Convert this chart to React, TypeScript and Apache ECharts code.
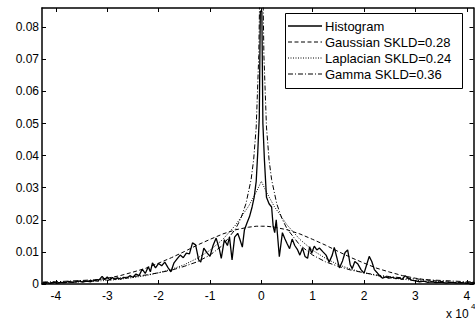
import React, { useEffect, useRef } from "react";
import * as echarts from "echarts";

// x values are in units of 10^4 (as the axis shows "x 10^4")
const histX = [
  -4.27, -4.2, -4.12, -4.05, -3.98, -3.9, -3.82, -3.75, -3.68, -3.6, -3.55, -3.48, -3.4, -3.32, -3.25, -3.18,
  -3.1, -3.05, -3.0, -2.95, -2.9, -2.85, -2.8, -2.74, -2.68, -2.62, -2.56, -2.5, -2.44, -2.38, -2.32, -2.26,
  -2.2, -2.16, -2.12, -2.06, -2.0, -1.94, -1.88, -1.82, -1.76, -1.7, -1.64, -1.58, -1.52, -1.46, -1.4, -1.34,
  -1.28, -1.22, -1.18, -1.12, -1.06, -1.0, -0.94, -0.88, -0.82, -0.78, -0.72, -0.66, -0.62, -0.57, -0.52, -0.46,
  -0.42, -0.37, -0.33, -0.28, -0.23, -0.18, -0.14, -0.1, -0.07, -0.04, -0.02, 0.01, 0.03, 0.06, 0.1, 0.15,
  0.2, 0.23, 0.26, 0.29, 0.35, 0.41, 0.46, 0.5, 0.55, 0.6, 0.65, 0.7, 0.75, 0.8, 0.85, 0.9,
  0.94, 0.98, 1.03, 1.08, 1.13, 1.2, 1.26, 1.32, 1.38, 1.42, 1.47, 1.52, 1.58, 1.63, 1.68, 1.73,
  1.77, 1.82, 1.88, 1.94, 2.0, 2.05, 2.1, 2.15, 2.2, 2.25, 2.3, 2.36, 2.42, 2.48, 2.55, 2.62,
  2.68, 2.74, 2.8, 2.86, 2.92, 3.0, 3.08, 3.16, 3.24, 3.32, 3.4, 3.5, 3.6, 3.7, 3.8, 3.9,
  4.0, 4.1, 4.2,
];
const histY = [
  0.0003, 0.0005, 0.0002, 0.0006, 0.0003, 0.0005, 0.0004, 0.0008, 0.0005, 0.0007, 0.001, 0.0006, 0.0009, 0.0007, 0.0011, 0.0009,
  0.0024, 0.0014, 0.0022, 0.0012, 0.002, 0.0014, 0.0019, 0.0015, 0.0021, 0.0018, 0.0026, 0.0021, 0.0031, 0.0026, 0.0046, 0.0033,
  0.0054, 0.0038, 0.0066, 0.005, 0.0064, 0.0057, 0.0068, 0.0052, 0.0038, 0.0066, 0.0078, 0.009, 0.0082, 0.0096, 0.0094, 0.0128,
  0.0122, 0.0075, 0.0068, 0.0112, 0.0098, 0.0086, 0.012, 0.0143, 0.011, 0.008, 0.0138, 0.012, 0.0146, 0.0075, 0.0146, 0.0158,
  0.014, 0.0115, 0.0168, 0.019, 0.021, 0.024, 0.027, 0.032, 0.041, 0.052, 0.085, 0.085, 0.05, 0.0386, 0.027, 0.025,
  0.024, 0.018, 0.016, 0.02, 0.0085, 0.016, 0.014, 0.0126, 0.011, 0.014, 0.012, 0.0108, 0.009, 0.0112, 0.0086, 0.008,
  0.0116, 0.0096, 0.0118, 0.0106, 0.0112, 0.01, 0.009, 0.0068, 0.009, 0.0114, 0.0082, 0.005, 0.0072, 0.0098, 0.0106, 0.006,
  0.0048, 0.007, 0.0062, 0.0045, 0.0034, 0.006, 0.0086, 0.007, 0.0045, 0.0036, 0.0026, 0.0018, 0.0022, 0.0018, 0.0021, 0.0017,
  0.0019, 0.0014, 0.0026, 0.0019, 0.0012, 0.001, 0.0007, 0.0009, 0.0005, 0.0007, 0.0004, 0.0006, 0.0003, 0.0005, 0.0003, 0.0004,
  0.0002, 0.0004, 0.0002,
];

const modelX = [
  -4.25, -4, -3.75, -3.5, -3.25, -3, -2.75, -2.5, -2.25, -2, -1.75, -1.5, -1.25, -1, -0.75, -0.5, -0.25, -0.1,
  0,
  0.1, 0.25, 0.5, 0.75, 1, 1.25, 1.5, 1.75, 2, 2.25, 2.5, 2.75, 3, 3.25, 3.5, 3.75, 4, 4.25,
];
const gaussY = [
  0.0002, 0.0003, 0.0005, 0.0008, 0.0012, 0.0018, 0.0026, 0.0037, 0.0049, 0.0065, 0.0082, 0.0101, 0.0121, 0.0139, 0.0156, 0.0169, 0.0177, 0.018,
  0.018,
  0.018, 0.0177, 0.0169, 0.0156, 0.0139, 0.0121, 0.0101, 0.0082, 0.0065, 0.0049, 0.0037, 0.0026, 0.0018, 0.0012, 0.0008, 0.0005, 0.0003, 0.0002,
];
const laplaceY = [
  0.0003, 0.0004, 0.0005, 0.0007, 0.0009, 0.0011, 0.0015, 0.002, 0.0026, 0.0035, 0.0046, 0.006, 0.008, 0.0105, 0.0139, 0.0184, 0.0242, 0.0286,
  0.032,
  0.0286, 0.0242, 0.0184, 0.0139, 0.0105, 0.008, 0.006, 0.0046, 0.0035, 0.0026, 0.002, 0.0015, 0.0011, 0.0009, 0.0007, 0.0005, 0.0004, 0.0003,
];

const gammaX = [
  -4.25, -4, -3.75, -3.5, -3.25, -3, -2.75, -2.5, -2.25, -2, -1.75, -1.5, -1.25, -1, -0.75, -0.5, -0.4, -0.3, -0.2, -0.15, -0.1, -0.05, -0.03,
  0,
  0.03, 0.05, 0.1, 0.15, 0.2, 0.3, 0.4, 0.5, 0.75, 1, 1.25, 1.5, 1.75, 2, 2.25, 2.5, 2.75, 3, 3.25, 3.5, 3.75, 4, 4.25,
];
const gammaY: (number | null)[] = [
  0.0006, 0.0007, 0.0009, 0.0011, 0.0013, 0.0016, 0.0019, 0.0023, 0.0028, 0.0035, 0.0043, 0.0055, 0.0069, 0.009, 0.0121, 0.0172, 0.0204, 0.025, 0.0325, 0.0387, 0.0489, 0.0712, 0.093,
  null,
  0.093, 0.0712, 0.0489, 0.0387, 0.0325, 0.025, 0.0204, 0.0172, 0.0121, 0.009, 0.0069, 0.0055, 0.0043, 0.0035, 0.0028, 0.0023, 0.0019, 0.0016, 0.0013, 0.0011, 0.0009, 0.0007, 0.0006,
];

const xTicks = [-4, -3, -2, -1, 0, 1, 2, 3, 4];
const yTicks = [0, 0.01, 0.02, 0.03, 0.04, 0.05, 0.06, 0.07, 0.08];
const legendNames = ["Histogram", "Gaussian SKLD=0.28", "Laplacian SKLD=0.24", "Gamma SKLD=0.36"];

const FONT = '"Liberation Sans", Arial, sans-serif';
const DASHES: (number[] | null)[] = [null, [4, 2.5], [1, 1.5], [5, 2, 1, 2]];

const zip = (xs: number[], ys: (number | null)[]) =>
  xs.map((x, i) => [x, ys[i] === null ? "-" : ys[i]]);

export default function App() {
  const ref = useRef<HTMLDivElement>(null);
  useEffect(() => {
    document.body.style.margin = "0";
    if (!ref.current) return;
    const chart = echarts.init(ref.current, null, { renderer: "svg" });
    const axisLine = { show: true, onZero: false, lineStyle: { color: "#000", width: 1.5 } };
    const legendChildren: any[] = [
      {
        type: "rect",
        shape: { x: 285.5, y: 13.5, width: 177, height: 75 },
        style: { fill: "#fff", stroke: "#000", lineWidth: 1 },
      },
    ];
    const rows = [26, 42, 58, 74];
    legendNames.forEach((name, i) => {
      legendChildren.push({
        type: "line",
        shape: { x1: 288, y1: rows[i], x2: 322, y2: rows[i] },
        style: { stroke: "#000", lineWidth: i === 0 ? 1.3 : 1, lineDash: DASHES[i] || undefined },
      });
      legendChildren.push({
        type: "text",
        x: 325,
        y: rows[i],
        style: { text: name, fontSize: 13, fontFamily: FONT, fill: "#000", verticalAlign: "middle" },
      });
    });
    const tickStyle = { inside: true, length: 4, lineStyle: { color: "#000" } };
    chart.setOption({
      animation: false,
      backgroundColor: "#fff",
      grid: { left: 42, right: 1.5, top: 8, bottom: 39 },
      xAxis: [
        {
          type: "value",
          min: -4.27,
          max: 4.13,
          position: "bottom",
          axisLine,
          splitLine: { show: false },
          axisTick: { ...tickStyle, customValues: xTicks },
          axisLabel: {
            customValues: xTicks,
            formatter: (v: number) => String(v),
            color: "#000",
            fontSize: 12,
            fontFamily: FONT,
            margin: 6,
          },
        },
        {
          type: "value",
          min: -4.27,
          max: 4.13,
          position: "top",
          axisLine,
          splitLine: { show: false },
          axisTick: { ...tickStyle, customValues: xTicks },
          axisLabel: { show: false },
        },
      ],
      yAxis: [
        {
          type: "value",
          min: 0,
          max: 0.086,
          position: "left",
          axisLine,
          splitLine: { show: false },
          axisTick: { ...tickStyle, customValues: yTicks },
          axisLabel: {
            customValues: yTicks,
            formatter: (v: number) => (v === 0 ? "0" : v.toFixed(2)),
            color: "#000",
            fontSize: 12,
            fontFamily: FONT,
            margin: 3,
          },
        },
        {
          type: "value",
          min: 0,
          max: 0.086,
          position: "right",
          axisLine,
          splitLine: { show: false },
          axisTick: { ...tickStyle, customValues: yTicks },
          axisLabel: { show: false },
        },
      ],
      series: [
        {
          name: legendNames[0],
          type: "line",
          data: zip(histX, histY),
          symbol: "none",
          lineStyle: { color: "#000", width: 1.3 },
          clip: true,
        },
        {
          name: legendNames[1],
          type: "line",
          data: zip(modelX, gaussY),
          symbol: "none",
          lineStyle: { color: "#000", width: 1, type: DASHES[1] },
          clip: true,
        },
        {
          name: legendNames[2],
          type: "line",
          data: zip(modelX, laplaceY),
          symbol: "none",
          lineStyle: { color: "#000", width: 1, type: DASHES[2] },
          clip: true,
        },
        {
          name: legendNames[3],
          type: "line",
          data: zip(gammaX, gammaY),
          symbol: "none",
          connectNulls: false,
          lineStyle: { color: "#000", width: 1, type: DASHES[3] },
          clip: true,
        },
      ],
      graphic: [
        { type: "group", z: 100, children: legendChildren },
        {
          type: "text",
          x: 446,
          y: 308,
          z: 100,
          style: { text: "x 10", fontSize: 12, fontFamily: FONT, fill: "#000" },
        },
        {
          type: "text",
          x: 471,
          y: 302,
          z: 100,
          style: { text: "4", fontSize: 8, fontFamily: FONT, fill: "#000" },
        },
      ],
    });
    return () => chart.dispose();
  }, []);
  return (
    <div
      ref={ref}
      style={{ position: "absolute", left: 0, top: 0, width: 475, height: 323 }}
    />
  );
}
